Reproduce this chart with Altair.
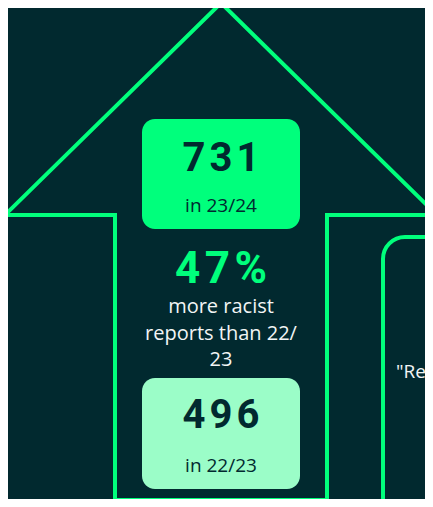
import altair as alt
import pandas as pd

# ---- data ----
report_counts = [731, 496]
report_periods = ["in 23/24", "in 22/23"]
increase_label = ["47%"]
caption_lines = ["more racist", "reports than 22/", "23"]
quote_text = ['"Refugees']

# ---- styles ----
BG = "#01292f"
GREEN = "#00ff7c"
LIGHT = "#9bfdc8"
DARK = "#01292f"
WHITE = "#f2f5f5"

W, H = 417, 491
X_DOMAIN = [8, 8 + W]
Y_DOMAIN = [8, 8 + H]
xs = alt.Scale(domain=X_DOMAIN, nice=False, zero=False)
ys = alt.Scale(domain=Y_DOMAIN, nice=False, zero=False, reverse=True)

# ---- layout (pixel positions in the page frame) ----
arrow_x = [221, 437, 327, 327, 115, 115, 5, 221]
arrow_y = [3, 215, 215, 500, 500, 215, 215, 3]
arrow = pd.DataFrame({"o": range(len(arrow_x)), "x": arrow_x, "y": arrow_y})

boxes = pd.DataFrame({
    "value": ["\u200a".join(str(v)) for v in report_counts],
    "period": report_periods,
    "x": [142, 142], "x2": [300, 300],
    "y": [119, 378], "y2": [229, 489],
    "num_y": [171, 428], "per_y": [212, 472],
    "fill": [GREEN, LIGHT],
})

caption = pd.DataFrame({"t": caption_lines, "y": [313, 339.5, 366]})
pct = pd.DataFrame({"t": ["\u200a".join(s) for s in increase_label], "y": [283]})
quote_box = pd.DataFrame({"x": [383], "x2": [560], "y": [237], "y2": [620]})
quote = pd.DataFrame({"t": quote_text, "x": [396], "y": [378]})

X = lambda f: alt.X(f, type="quantitative", scale=xs, axis=None)
Y = lambda f: alt.Y(f, type="quantitative", scale=ys, axis=None)

arrow_layer = alt.Chart(arrow).mark_line(
    stroke=GREEN, strokeWidth=4, strokeJoin="miter"
).encode(x=X("x"), y=Y("y"), order="o:Q")

box_layer = alt.Chart(boxes).mark_rect(cornerRadius=13).encode(
    x=X("x"), x2="x2", y=Y("y"), y2="y2",
    fill=alt.Fill("fill:N", scale=None),
)

num_layer = alt.Chart(boxes).mark_text(
    font="Roboto", fontWeight="bold", fontSize=40, color=DARK,
    align="center", baseline="alphabetic",
).encode(x=alt.value(213), y=Y("num_y"), text="value:N")

per_layer = alt.Chart(boxes).mark_text(
    font="Open Sans", fontSize=19, color=DARK,
    align="center", baseline="alphabetic",
).encode(x=alt.value(213), y=Y("per_y"), text="period:N")

pct_layer = alt.Chart(pct).mark_text(
    font="Roboto", fontWeight="bold", fontSize=44, color=GREEN,
    align="center", baseline="alphabetic",
).encode(x=alt.value(213), y=Y("y"), text="t:N")

cap_layer = alt.Chart(caption).mark_text(
    font="Open Sans", fontSize=20, color=WHITE,
    align="center", baseline="alphabetic",
).encode(x=alt.value(213), y=Y("y"), text="t:N")

qbox_layer = alt.Chart(quote_box).mark_rect(
    cornerRadius=22, fill=BG, stroke=GREEN, strokeWidth=4, clip=True
).encode(x=X("x"), x2="x2", y=Y("y"), y2="y2")

quote_layer = alt.Chart(quote).mark_text(
    font="Open Sans", fontSize=19, color=WHITE,
    align="left", baseline="alphabetic",
).encode(x=X("x"), y=Y("y"), text="t:N")

chart = alt.layer(
    arrow_layer, qbox_layer, box_layer, num_layer, per_layer,
    pct_layer, cap_layer, quote_layer,
).properties(
    width=W, height=H, padding=0,
    autosize=alt.AutoSizeParams(type="none"),
    background=BG,
).configure_view(stroke=None)

chart.save("out.html", embed_options={"renderer": "svg", "actions": False})
